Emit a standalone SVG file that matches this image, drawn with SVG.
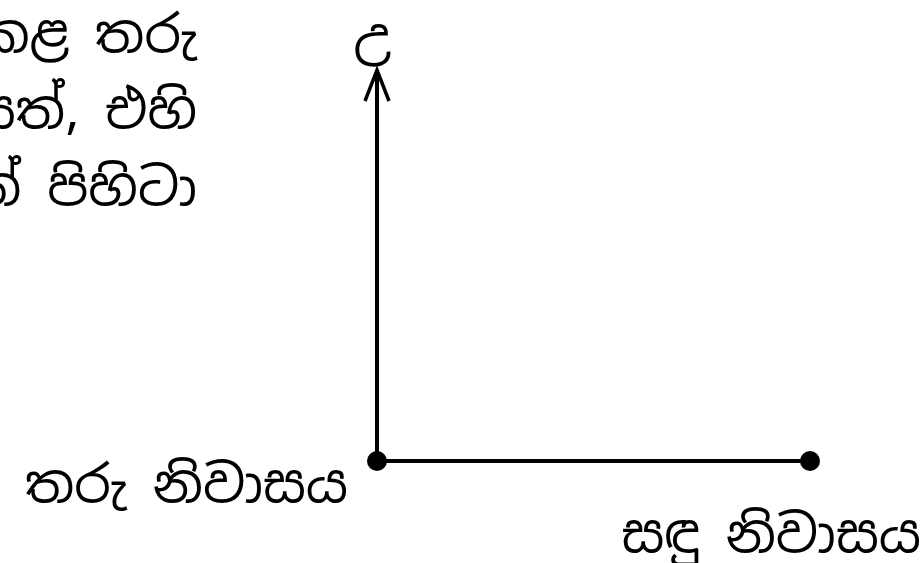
<svg xmlns="http://www.w3.org/2000/svg" width="923" height="563" viewBox="0 0 923 563">
<defs>
<style>
.t{font-family:"Noto Sans Sinhala","Noto Serif Sinhala","Noto Sans","DejaVu Sans",sans-serif;font-size:52px;fill:#000}
.ln{stroke:#000;stroke-width:4;fill:none}
.ah{stroke:#000;stroke-width:3.5;fill:none;stroke-linejoin:miter}
</style>
</defs>
<rect width="923" height="563" fill="#fff"/>
<g id="note">
<text class="t" x="197" y="52" text-anchor="end">කළ තරු</text>
<text class="t" x="197" y="128" text-anchor="end">යත්, එහි</text>
<text class="t" x="197" y="205" text-anchor="end">ත් පිහිටා</text>
</g>
<g id="connectors">
<line class="ln" x1="377" y1="461" x2="377" y2="72"/>
<polyline class="ah" points="365,101 377,70 389,101"/>
<line class="ln" x1="377" y1="461" x2="810" y2="461"/>
</g>
<g id="north">
<text class="t" x="372" y="56" text-anchor="middle">උ</text>
</g>
<g id="origin">
<circle cx="377" cy="461" r="10" fill="#000"/>
<text class="t" x="25" y="502">තරු නිවාසය</text>
</g>
<g id="end">
<circle cx="810" cy="461" r="10" fill="#000"/>
<text class="t" x="921" y="552" text-anchor="end">සඳු නිවාසය</text>
</g>
</svg>
